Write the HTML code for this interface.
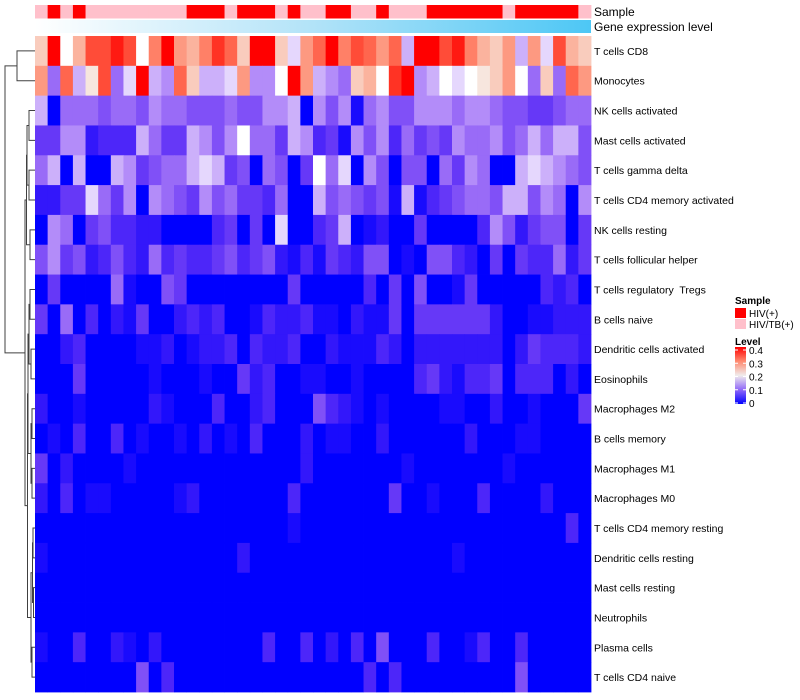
<!DOCTYPE html>
<html><head><meta charset="utf-8">
<style>
html,body{margin:0;padding:0;background:#fff;}
svg{display:block;font-family:"Liberation Sans",Arial,sans-serif;}
</style></head>
<body>
<svg id="chart" width="800" height="700" viewBox="0 0 800 700">
  <defs>
    <linearGradient id="geneGrad" x1="0" x2="1" y1="0" y2="0">
      <stop offset="0" stop-color="#ffffff"/>
      <stop offset="0.5" stop-color="#b2e3f8"/>
      <stop offset="1" stop-color="#4dc7f5"/>
    </linearGradient>
    <linearGradient id="levelGrad" x1="0" x2="0" y1="1" y2="0">
      <stop offset="0" stop-color="#0000ff"/>
      <stop offset="0.25" stop-color="#9068f8"/>
      <stop offset="0.5" stop-color="#f0ecec"/>
      <stop offset="0.75" stop-color="#ff8a70"/>
      <stop offset="1" stop-color="#ff0000"/>
    </linearGradient>
  </defs>
  <g id="dendro"></g>
  <g id="sampleBar"></g>
  <rect x="35" y="20" width="556" height="13" fill="url(#geneGrad)"/>
  <text x="594" y="16" font-size="12" fill="#000">Sample</text>
  <text x="594" y="31" font-size="12" fill="#000">Gene expression level</text>
  <g id="cells"></g>
  <g id="rowLabels"></g>
  <g>
    <text x="735" y="304" font-size="10" font-weight="bold">Sample</text>
    <rect x="735" y="308" width="11" height="10" fill="#ff0000"/>
    <text x="749" y="317" font-size="10">HIV(+)</text>
    <rect x="735" y="319" width="11" height="10" fill="#ffc0cb"/>
    <text x="749" y="328" font-size="10">HIV/TB(+)</text>
    <text x="735" y="345" font-size="10" font-weight="bold">Level</text>
    <rect x="735" y="347" width="11" height="57" fill="url(#levelGrad)"/>
    <g id="levelTicks"></g>
  </g>
</svg>
<script>
// ---- data ----
const rowNames = ["T cells CD8","Monocytes","NK cells activated","Mast cells activated","T cells gamma delta","T cells CD4 memory activated","NK cells resting","T cells follicular helper","T cells regulatory  Tregs","B cells naive","Dendritic cells activated","Eosinophils","Macrophages M2","B cells memory","Macrophages M1","Macrophages M0","T cells CD4 memory resting","Dendritic cells resting","Mast cells resting","Neutrophils","Plasma cells","T cells CD4 naive"];
const sampleGroups = ["P","R","P","R","P","P","P","P","P","P","P","P","R","R","R","P","R","R","R","P","R","P","P","R","R","P","P","R","P","P","P","R","R","R","R","R","R","P","R","R","R","R","R","P"];
const levelTickLabels = [0,0.1,0.2,0.3,0.4];
// values in percent (level * 100)
const row0 = [24,40,20,26,34,34,38,34,20,30,40,28,26,30,36,32,24,40,40,24,18,28,32,40,30,34,32,28,32,16,40,40,34,38,30,26,24,28,16,28,18,34,26,24];
const row1 = [28,12,32,16,22,34,12,18,40,16,14,32,24,16,16,18,28,14,14,20,40,28,16,14,12,24,26,20,36,40,14,16,20,18,20,22,24,28,20,12,24,12,32,28];
const row2 = [16,0,12,12,12,10,12,12,10,14,12,12,10,10,10,12,10,10,14,14,16,0,14,10,14,2,12,14,10,10,14,14,14,12,14,14,12,10,10,8,8,10,12,12];
const row3 = [8,8,14,14,4,6,6,6,16,12,8,8,16,14,10,14,20,12,12,8,16,14,6,8,2,14,10,14,6,12,8,10,8,14,12,12,14,10,12,16,12,16,16,10];
const row4 = [12,16,0,16,0,0,16,14,8,10,12,12,16,18,16,8,10,0,12,10,0,8,20,12,18,0,14,10,0,10,10,0,12,8,14,12,0,0,16,18,16,14,12,10];
const row5 = [4,4,8,8,18,12,8,14,0,14,12,10,8,14,10,12,8,8,6,12,0,0,16,10,12,10,8,10,2,16,2,6,8,10,12,12,10,16,16,10,14,12,0,14];
const row6 = [0,14,12,0,8,10,6,6,4,4,0,0,0,0,6,8,0,8,0,18,0,0,6,8,16,0,2,4,0,0,8,0,0,0,0,6,14,10,4,8,10,10,0,8];
const row7 = [10,14,8,10,4,6,10,6,4,12,6,8,6,6,8,10,6,8,10,4,2,6,2,8,6,4,10,10,0,2,0,10,10,6,4,0,8,0,8,6,6,12,4,8];
const row8 = [0,8,0,0,0,0,12,2,0,0,10,8,0,0,0,0,0,0,0,0,8,0,0,0,0,0,6,0,8,0,10,0,0,2,8,0,0,0,0,0,6,4,6,0];
const row9 = [8,0,12,0,6,0,4,2,8,0,0,4,6,4,6,0,0,2,6,4,4,6,2,2,0,4,2,2,8,0,8,8,8,8,8,8,4,0,0,2,2,4,4,4];
const row10 = [0,0,4,6,0,0,0,0,2,2,4,0,2,4,4,6,0,6,4,4,6,0,0,4,2,2,2,6,4,0,4,4,4,4,4,4,4,0,4,8,6,6,6,4];
const row11 = [0,0,0,8,0,0,0,0,0,2,0,0,0,2,0,0,8,4,6,0,0,2,2,0,0,2,0,0,0,0,6,8,4,2,6,6,8,0,6,6,6,0,4,0];
const row12 = [4,0,0,2,0,0,0,0,0,4,2,0,0,0,6,0,0,4,6,0,0,0,10,6,4,2,0,2,0,0,0,0,2,2,0,0,4,0,0,2,0,0,0,8];
const row13 = [0,2,0,6,0,0,6,0,2,0,0,2,0,4,0,2,0,6,0,0,0,4,0,2,2,0,0,4,0,0,0,0,0,0,4,0,0,0,2,2,0,0,0,0];
const row14 = [8,0,4,0,0,0,0,2,0,0,0,0,0,0,0,0,0,0,0,0,0,4,0,0,0,0,0,0,0,2,0,0,0,0,0,0,0,2,0,0,0,0,0,0];
const row15 = [4,0,6,0,2,2,0,0,0,0,0,2,4,0,0,0,0,0,0,0,6,0,0,0,0,0,0,0,8,0,0,2,0,0,0,6,0,0,0,0,4,0,0,0];
const row16 = [0,0,0,0,0,0,0,0,0,0,0,0,0,0,0,0,0,0,0,0,2,0,0,0,0,0,0,0,0,0,0,0,0,0,0,0,0,0,0,0,0,0,6,0];
const row17 = [2,0,0,0,0,0,0,0,0,0,0,0,0,0,0,0,4,0,0,0,0,0,0,0,0,0,0,0,0,0,0,0,0,2,0,0,0,0,0,0,0,0,0,0];
const row18 = [0,0,0,0,0,0,0,0,0,0,0,0,0,0,0,0,0,0,0,0,0,0,0,0,0,0,0,0,0,0,0,0,0,0,0,0,0,0,0,0,0,0,0,0];
const row19 = [0,0,0,0,0,0,0,0,0,0,0,0,0,0,0,0,0,0,0,0,0,0,0,0,0,0,0,0,0,0,0,0,0,0,0,0,0,0,0,0,0,0,0,0];
const row20 = [2,0,0,6,0,0,4,2,0,4,0,0,0,0,0,0,0,0,6,0,0,6,0,4,0,6,0,10,0,0,0,6,0,0,2,6,0,0,6,0,0,0,0,0];
const row21 = [0,0,0,0,0,0,0,0,10,0,6,0,0,0,0,0,0,0,0,0,0,0,0,0,0,0,6,0,6,0,0,0,0,0,0,0,0,0,10,0,0,0,0,0];
const matrix = [row0,row1,row2,row3,row4,row5,row6,row7,row8,row9,row10,row11,row12,row13,row14,row15,row16,row17,row18,row19,row20,row21];

// ---- geometry ----
const SVGNS = "http://www.w3.org/2000/svg";
const X0 = 35, X1 = 591, Y0 = 36, Y1 = 692;
const nCols = sampleGroups.length, nRows = rowNames.length;
const cw = (X1 - X0) / nCols, rh = (Y1 - Y0) / nRows;
function xCol(i){ return X0 + i * cw; }
function yRow(r){ return Y0 + r * rh; }
function colorFor(pct){
  const v = pct / 100;
  if (v <= 0.2){
    const t = Math.max(0, v / 0.2);
    const s = Math.sin(Math.PI * t);
    const r = Math.round(255 * t);
    const g = Math.max(0, Math.round(255 * t - 48 * s));
    const b = Math.round(255 - 8 * s);
    return "rgb(" + r + "," + g + "," + b + ")";
  }
  const t = Math.min(1, (v - 0.2) / 0.2);
  const s = Math.sin(Math.PI * t);
  const g = Math.round(255 * (1 - t));
  const b = Math.max(0, Math.round(255 * (1 - t) - 25 * s));
  const r = Math.round(255 - 10 * Math.max(0, 1 - 2 * t));
  return "rgb(" + r + "," + g + "," + b + ")";
}
function mk(tag, attrs){ const e = document.createElementNS(SVGNS, tag); for (const k in attrs) e.setAttribute(k, attrs[k]); return e; }

// sample bar
const sb = document.getElementById('sampleBar');
sampleGroups.forEach(function(g, i){
  const r = mk('rect', {x: xCol(i), y: 5, width: cw + 0.4, height: 13.5, fill: g === 'R' ? '#ff0000' : '#ffc0cb'});
  
  
  sb.appendChild(r);
});

// cells
const cg = document.getElementById('cells');
matrix.forEach(function(row, r){
  row.forEach(function(v, c){
    const rect = mk('rect', {x: xCol(c), y: yRow(r), width: cw + 0.4, height: rh + 0.4, fill: colorFor(v)});
    
    
    cg.appendChild(rect);
  });
});

// row labels
const rl = document.getElementById('rowLabels');
rowNames.forEach(function(n, r){
  const t = mk('text', {x: 594, y: yRow(r) + rh / 2 + 4, 'font-size': 10.5, fill: '#000'});
  t.setAttribute('xml:space', 'preserve');
  t.style.whiteSpace = 'pre';
  t.textContent = n;
  
  
  rl.appendChild(t);
});

// level ticks
const lt = document.getElementById('levelTicks');
levelTickLabels.forEach(function(v){
  const y = 403 - (v / 0.4) * 53;
  const l1 = mk('line', {x1: 735, x2: 738, y1: y, y2: y, stroke: '#fff', 'stroke-width': 1});
  
  
  lt.appendChild(l1);
  const l2 = mk('line', {x1: 743, x2: 746, y1: y, y2: y, stroke: '#fff', 'stroke-width': 1});
  
  
  lt.appendChild(l2);
  const t = mk('text', {x: 749, y: y + 4, 'font-size': 10});
  t.textContent = String(v);
  
  
  lt.appendChild(t);
});

// dendrogram
function N(a, b, x){ return {a: a, b: b, x: x}; }
const lowerTree = N(
  N(N(N(2,3,29), N(4,5,29), 27), N(6,7,30), 26.5),
  N(
    N(N(N(8,9,30), N(10,11,31), 29), N(N(12,13,32), N(14,15,32), 31), 28),
    N(N(N(16,17,33), N(18,19,33.5), 32.5), N(20,21,32), 31),
    27.5),
  25);
const tree = N(N(0,1,17), lowerTree, 5);
const dg = document.getElementById('dendro');
function drawNode(node){
  if (typeof node === 'number') return {x: 35, y: yRow(node) + rh / 2};
  const a = drawNode(node.a), b = drawNode(node.b), x = node.x;
  const p = mk('path', {d: 'M' + a.x + ',' + a.y + 'H' + x + 'V' + b.y + 'H' + b.x, fill: 'none', stroke: '#404040', 'stroke-width': 1});
  
  
  dg.appendChild(p);
  return {x: x, y: (a.y + b.y) / 2};
}
drawNode(tree);
</script>
</body></html>
